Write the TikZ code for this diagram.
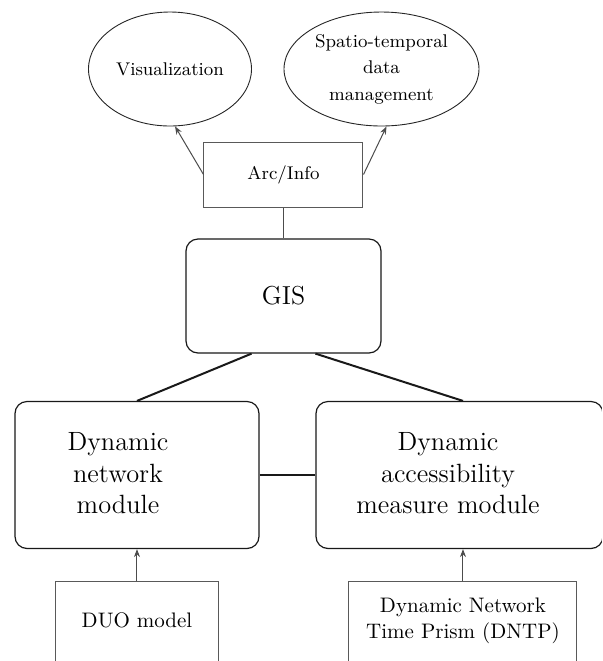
\documentclass[tikz,border=0pt]{standalone}
\usetikzlibrary{shapes.geometric, arrows.meta}
\begin{document}
\begin{tikzpicture}[x=0.5pt, y=-0.5pt, >={Stealth[length=4pt, width=3pt]},
        bubble/.style={ellipse, draw=black!85, line width=0.45pt, inner sep=0pt, align=center, font=\fontsize{9.2}{13.25}\selectfont},
        plainbox/.style={rectangle, draw=black!65, line width=0.5pt, align=center, font=\fontsize{9.2}{13.25}\selectfont},
        softbox/.style={rectangle, draw=black!90, rounded corners=6pt, line width=0.6pt},
        lowbox/.style={rectangle, draw=black!65, line width=0.5pt, anchor=north, minimum height=60pt},
        modtext/.style={align=center, inner sep=0pt, font=\fontsize{13.2}{15.8}\selectfont},
        lowtext/.style={align=center, inner sep=0pt, font=\fontsize{10.5}{13}\selectfont},
        link/.style={line width=0.5pt, draw=black!70},
        boldlink/.style={line width=1pt, draw=black!90}]
        \useasboundingbox (0,0) rectangle (602,661);
        \clip (0,0) rectangle (602,661);
        
        % outputs of the GIS
        \node[bubble, minimum width=81.5pt, minimum height=57pt] (vis) at (170,69) {Visualization};
        \node[bubble, minimum width=97.5pt, minimum height=57pt] (stdm) at (381.5,69) {Spatio-temporal\\data\\management};
        \node[plainbox, minimum width=79.5pt, minimum height=32.5pt] (arc) at (283.5,174.5) {Arc/Info};
        \node[softbox, minimum width=97.5pt, minimum height=57pt, font=\fontsize{13}{15}\selectfont] (gis) at (283.5,296) {GIS};
        
        % the two modules
        \node[softbox, minimum width=122pt, minimum height=73.5pt] (dnm) at (137,475) {};
        \node[modtext] (dnmtext) at (118,473.5) {Dynamic\\network\\module};
        \node[softbox, minimum width=143.5pt, minimum height=73.5pt] (damm) at (459.5,475) {};
        \node[modtext] (dammtext) at (448,473.5) {Dynamic\\accessibility\\measure module};
        
        % inputs
        \node[lowbox, minimum width=81.5pt] (duo) at (137,581) {};
        \node[lowtext] (duotext) at (137,620) {DUO model};
        \node[lowbox, minimum width=114pt] (dntp) at (463,581) {};
        \node[lowtext] (dntptext) at (463,621) {Dynamic Network\\Time Prism (DNTP)};
        
        \draw[link, ->] (arc.west) -- (vis.-85);
        \draw[link, ->] (arc.east) -- (stdm.-85);
        \draw[link] (arc) -- (gis);
        \draw[boldlink] (gis.-119) -- (dnm.north);
        \draw[boldlink] (gis.-61) -- (dntp.north |- damm.north);
        \draw[boldlink] (dnm) -- (damm);
        \draw[link, ->] (duo.north) -- (dnm.south);
        \draw[link, ->] (dntp.north) -- (dntp.north |- damm.south);
        
    \end{tikzpicture}
\end{document}
